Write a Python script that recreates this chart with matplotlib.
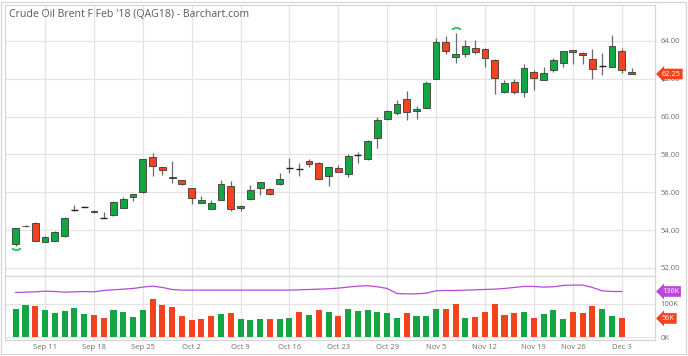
import matplotlib
matplotlib.use("Agg")
import matplotlib.pyplot as plt
import matplotlib.transforms as mtransforms
from matplotlib.patches import Rectangle
import numpy as np

plt.rcParams['font.family'] = ['Open Sans', 'DejaVu Sans']

title = "Crude Oil Brent F Feb '18 (QAG18) - Barchart.com"

opens = [53.24, 54.22, 54.39, 53.37, 53.43, 53.67, 55.04, 55.23, 54.93, 54.65,
         54.78, 55.18, 55.73, 55.99, 57.85, 57.33, 56.80, 56.63, 56.20, 55.43,
         55.11, 55.59, 56.34, 55.15, 55.62, 56.24, 56.19, 56.42, 57.28, 57.23,
         57.63, 57.56, 56.86, 57.26, 56.96, 57.98, 57.77, 58.88, 59.86, 60.21,
         60.95, 60.28, 60.47, 62.00, 63.93, 63.14, 63.30, 63.61, 63.59, 63.01,
         61.29, 61.83, 61.32, 62.34, 61.94, 62.47, 62.85, 63.51, 63.35, 63.06,
         62.68, 62.64, 63.49, 62.38]
highs = [54.12, 54.28, 54.42, 53.67, 53.93, 54.67, 55.30, 55.25, 55.04, 54.97,
         55.52, 55.76, 55.91, 57.76, 58.09, 57.35, 57.63, 56.65, 56.22, 55.81,
         55.59, 56.65, 56.60, 55.31, 56.38, 56.54, 56.21, 57.00, 57.79, 57.56,
         57.77, 57.58, 57.35, 57.46, 58.00, 58.14, 58.76, 59.96, 60.33, 60.88,
         61.37, 60.58, 61.90, 64.14, 64.28, 64.42, 64.04, 64.04, 63.61, 63.03,
         61.94, 61.99, 62.77, 62.47, 62.61, 63.12, 63.49, 63.53, 63.43, 63.58,
         63.35, 64.32, 63.61, 62.56]
lows = [53.15, 54.16, 53.40, 53.35, 53.41, 53.65, 55.00, 55.21, 54.91, 54.63,
        54.76, 55.16, 55.55, 55.97, 56.86, 56.91, 56.47, 56.40, 55.38, 55.41,
        55.09, 55.57, 55.02, 55.02, 55.60, 55.85, 55.87, 56.40, 57.03, 56.86,
        57.32, 56.69, 56.33, 57.06, 56.79, 57.56, 57.70, 58.35, 59.84, 60.08,
        59.82, 59.86, 60.45, 61.98, 63.33, 62.82, 63.17, 63.30, 62.61, 61.18,
        61.27, 61.21, 61.05, 61.41, 61.92, 62.38, 62.64, 62.77, 62.77, 61.99,
        62.20, 62.62, 62.32, 62.24]
closes = [54.09, 54.23, 53.42, 53.65, 53.91, 54.65, 55.04, 55.23, 55.02, 54.65,
          55.50, 55.64, 55.89, 57.74, 57.39, 57.17, 56.76, 56.42, 55.68, 55.57,
          55.41, 56.45, 55.10, 55.29, 56.12, 56.52, 55.89, 56.70, 57.28, 57.23,
          57.49, 56.71, 57.33, 57.08, 57.92, 57.98, 58.72, 59.82, 60.31, 60.67,
          60.24, 60.40, 61.79, 63.96, 63.47, 63.30, 63.74, 63.40, 63.12, 62.03,
          61.76, 61.29, 62.56, 62.03, 62.32, 62.99, 63.47, 63.40, 63.24, 62.53,
          62.68, 63.75, 62.45, 62.25]

# volume in thousands (last session has no volume yet)
volumes = [84, 96, 94, 82, 71, 78, 87, 69, 66, 58,
           80, 74, 61, 82, 114, 96, 90, 64, 50, 53,
           62, 68, 71, 53, 50, 53, 53, 53, 58, 75,
           66, 80, 74, 64, 84, 78, 80, 75, 73, 58,
           71, 64, 64, 84, 84, 100, 58, 61, 75, 98,
           66, 71, 76, 57, 70, 80, 55, 76, 73, 94,
           84, 62, 56]
vol_ma = [133, 134, 135, 137, 136, 134, 135, 136, 135, 139,
          141, 143, 145, 149, 152, 148, 142, 140, 140, 140,
          140, 140, 140, 140, 140, 140, 140, 140, 140, 141,
          142, 143, 144, 146, 149, 152, 153, 150, 145, 130,
          129, 129, 131, 138, 139, 139, 140, 141, 142, 143,
          145, 148, 151, 151, 149, 150, 154, 155, 155, 148,
          138, 136, 136]

week_idx = [3, 8, 13, 18, 23, 28, 33, 38, 43, 48, 53, 57, 62]
week_labels = ["Sep 11", "Sep 18", "Sep 25", "Oct 2", "Oct 9", "Oct 16", "Oct 23",
               "Oct 29", "Nov 5", "Nov 12", "Nov 19", "Nov 26", "Dec 3"]
price_ticks = [52, 54, 56, 58, 60, 62, 64]
vol_ticks = [0, 100]

GREEN = '#13a541'
RED = '#f2421f'
EDGE = '#3a3a3a'
WICK = '#6b6b6b'
GRID = '#e4e4e4'
TXT = '#6e6e6e'
PURPLE = '#b948d8'

W, H = 688, 356
fig = plt.figure(figsize=(W / 100, H / 100), dpi=100)

def fx(px):
    return px / W

def fy(py):
    return 1 - py / H

left, right = 5, 655
p_top, p_bot = 5, 276
v_top, v_bot = 276, 340
axp = fig.add_axes([fx(left), fy(p_bot), fx(right - left), fy(p_top) - fy(p_bot)])
axv = fig.add_axes([fx(left), fy(v_bot), fx(right - left), fy(v_top) - fy(v_bot)], sharex=axp)

o = np.array(opens); h = np.array(highs); l = np.array(lows); c = np.array(closes)
n = len(o)
x = np.arange(n)

# wicks
axp.vlines(x, l, h, color=WICK, lw=0.9, zorder=2)
bw = 0.7
for i in range(n):
    if abs(c[i] - o[i]) < 0.005:
        axp.hlines(o[i], x[i] - bw / 2, x[i] + bw / 2, color='#222222', lw=1.0, zorder=3)
    else:
        col = GREEN if c[i] > o[i] else RED
        axp.bar(x[i], abs(c[i] - o[i]), bottom=min(o[i], c[i]), width=bw,
                color=col, edgecolor=EDGE, linewidth=0.6, zorder=3)

# high / low markers
imax = int(np.argmax(h)); imin = int(np.argmin(l))
up = mtransforms.offset_copy(axp.transData, fig=fig, x=0, y=5, units='dots')
dn = mtransforms.offset_copy(axp.transData, fig=fig, x=0, y=-3, units='dots')
axp.plot([x[imax]], [h[imax]], marker=r'$\frown$', color='#3cc46a', ms=6, transform=up, zorder=4)
axp.plot([x[imin]], [l[imin]], marker=r'$\smile$', color='#3cc46a', ms=6, transform=dn, zorder=4)

xmin, xmax = -1.1, 65.4
axp.set_xlim(xmin, xmax)
axp.set_ylim(51.57, 65.9)
axp.set_yticks(price_ticks)
axp.set_yticklabels([f"{t:.2f}" for t in price_ticks])
axp.yaxis.tick_right()
axp.tick_params(axis='y', length=0, pad=4, labelsize=5.5, labelcolor=TXT)
axp.set_xticks(week_idx)
axp.tick_params(axis='x', length=0, labelbottom=False)
axp.grid(True, color=GRID, lw=0.9, zorder=0)
axp.set_axisbelow(True)
for s in axp.spines.values():
    s.set_color('#d6d6d6'); s.set_linewidth(0.9)

# last price tag
axp.annotate(f"{closes[-1]:.2f}", xy=(1.0, closes[-1]), xycoords=('axes fraction', 'data'),
             xytext=(5, 0), textcoords='offset points', va='center', ha='left',
             fontsize=5.3, color='white',
             bbox=dict(boxstyle='larrow,pad=0.25', fc=RED, ec='none'), annotation_clip=False, zorder=6)

# volume
vol = np.array(volumes)
vx = np.arange(len(vol))
prev = np.concatenate([[c[0] - 1], c[:len(vol) - 1]])
vcols = [GREEN if c[i] >= prev[i] else RED for i in range(len(vol))]
axv.bar(vx, vol, width=0.62, color=vcols, zorder=3)
axv.plot(np.arange(len(vol_ma)), vol_ma, color=PURPLE, lw=0.9, zorder=4)
axv.set_ylim(-8, 182)
axv.set_yticks(vol_ticks)
axv.set_yticklabels([f"{t}K" for t in vol_ticks])
axv.yaxis.tick_right()
axv.tick_params(axis='y', length=0, pad=4, labelsize=5.5, labelcolor=TXT)
axv.set_xticks(week_idx)
axv.set_xticklabels(week_labels)
axv.tick_params(axis='x', length=0, pad=3, labelsize=5.5, labelcolor=TXT)
axv.grid(True, color=GRID, lw=0.9, zorder=0)
axv.set_axisbelow(True)
for s in axv.spines.values():
    s.set_color('#d6d6d6'); s.set_linewidth(0.9)

axv.annotate(f"{vol_ma[-1]}K", xy=(1.0, vol_ma[-1]), xycoords=('axes fraction', 'data'),
             xytext=(5, 0), textcoords='offset points', va='center', ha='left',
             fontsize=5.3, color='white',
             bbox=dict(boxstyle='larrow,pad=0.25', fc=PURPLE, ec='none'), annotation_clip=False, zorder=6)
axv.annotate(f"{volumes[-1]}K", xy=(1.0, volumes[-1]), xycoords=('axes fraction', 'data'),
             xytext=(5, 0), textcoords='offset points', va='center', ha='left',
             fontsize=5.3, color='white',
             bbox=dict(boxstyle='larrow,pad=0.25', fc=RED, ec='none'), annotation_clip=False, zorder=6)

fig.text(fx(9), fy(17), title, fontsize=7.6, color='#5a5a5a', va='baseline', ha='left')

fig.patches.append(Rectangle((fx(1), fy(354)), fx(685), fy(2) - fy(354), transform=fig.transFigure,
                             fill=False, ec='#d6d6d6', lw=0.9))

fig.savefig("out.png", dpi=100, facecolor='white')
